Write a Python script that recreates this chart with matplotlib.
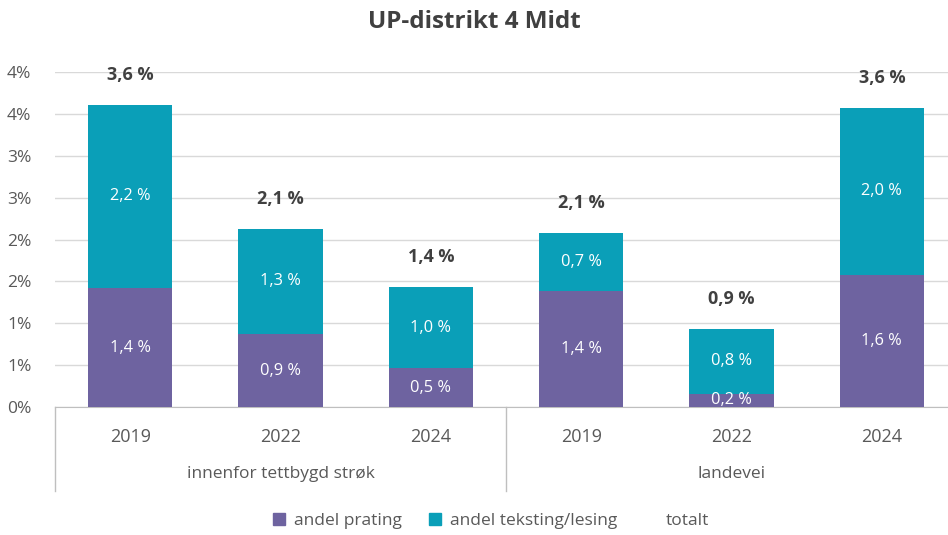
import matplotlib.pyplot as plt
from matplotlib.patches import Patch
from matplotlib.lines import Line2D

plt.rcParams['font.family'] = ['Open Sans', 'DejaVu Sans']

# data (percent)
years = ['2019', '2022', '2024', '2019', '2022', '2024']
groups = ['innenfor tettbygd strøk', 'landevei']
prating = [1.42, 0.87, 0.46, 1.38, 0.16, 1.58]
teksting = [2.19, 1.26, 0.97, 0.70, 0.77, 1.99]
totalt = [3.61, 2.13, 1.43, 2.08, 0.93, 3.57]
yticks = [0, 0.5, 1.0, 1.5, 2.0, 2.5, 3.0, 3.5, 4.0]
ytick_labels = ['0%', '1%', '1%', '2%', '2%', '3%', '3%', '4%', '4%']

purple = '#6E63A0'
teal = '#0A9FB8'
dark = '#404040'
grey = '#595959'

fig = plt.figure(figsize=(9.48, 5.35), dpi=100)
ax = fig.add_axes([55 / 948, 1 - 407 / 535, 902 / 948, 335 / 535])

x = list(range(len(years)))
ax.bar(x, prating, width=0.56, color=purple, zorder=3)
ax.bar(x, teksting, width=0.56, bottom=prating, color=teal, zorder=3)

def fmt(v):
    return f'{v:.1f} %'.replace('.', ',')

# segment labels
for i in x:
    ax.text(i, prating[i] / 2, fmt(prating[i]),
            ha='center', va='center', color='white', fontsize=11.8, zorder=4)
    ax.text(i, prating[i] + teksting[i] / 2, fmt(teksting[i]),
            ha='center', va='center', color='white', fontsize=11.8, zorder=4)
    ax.annotate(fmt(totalt[i]), (i, totalt[i]),
                xytext=(0, 21.5), textcoords='offset points',
                ha='center', va='center', color=dark, fontsize=13,
                fontweight='bold', annotation_clip=False)

ax.set_xlim(-0.5, len(years) - 0.5)
ax.set_ylim(0, 4.0)
ax.set_yticks(yticks)
ax.set_yticklabels(ytick_labels)
ax.tick_params(axis='y', length=0, labelsize=12.5, labelcolor=grey, pad=17)
ax.set_xticks(x)
ax.set_xticklabels(years)
ax.tick_params(axis='x', length=0, labelsize=13, labelcolor=grey, pad=15)
ax.grid(axis='y', color='#D9D9D9', lw=1, zorder=0)
for s in ['top', 'right', 'left']:
    ax.spines[s].set_visible(False)
ax.spines['bottom'].set_color('#BFBFBF')

# group labels and separators
trans = ax.get_xaxis_transform()
for j, g in enumerate(groups):
    ax.text(j * 3 + 1, -0.20, g, transform=trans, ha='center', va='center',
            fontsize=12.5, color=grey)
for xs in [-0.5, 2.5, 5.5]:
    ax.add_line(Line2D([xs, xs], [0, -0.25], transform=trans, color='#BFBFBF',
                       lw=1, clip_on=False))

fig.text(0.5, 1 - 22 / 535, 'UP-distrikt 4 Midt', ha='center', va='center',
         fontsize=17.5, fontweight='bold', color=dark)

handles = [Patch(color=purple), Patch(color=teal), Patch(color='none')]
fig.legend(handles, ['andel prating', 'andel teksting/lesing', 'totalt'],
           loc='center', bbox_to_anchor=(0.518, 1 - 521 / 535), ncol=3,
           frameon=False, fontsize=12.5, labelcolor=grey, handlelength=0.7,
           handleheight=0.7, handletextpad=0.5, columnspacing=1.6)

fig.savefig('out.png', dpi=100)
